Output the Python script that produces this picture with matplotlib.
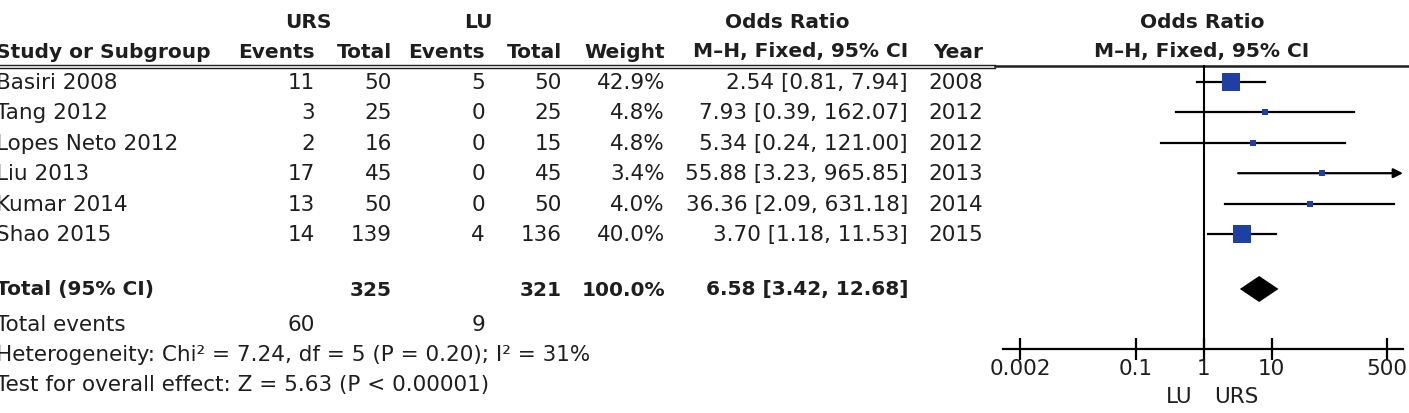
import numpy as np
import matplotlib
matplotlib.use('Agg')
import matplotlib.pyplot as plt

# study data
studies = ['Basiri 2008', 'Tang 2012', 'Lopes Neto 2012', 'Liu 2013', 'Kumar 2014', 'Shao 2015']
urs_events = [11, 3, 2, 17, 13, 14]
urs_total = [50, 25, 16, 45, 50, 139]
lu_events = [5, 0, 0, 0, 0, 4]
lu_total = [50, 25, 15, 45, 50, 136]
weights = [42.9, 4.8, 4.8, 3.4, 4.0, 40.0]
odds = [2.54, 7.93, 5.34, 55.88, 36.36, 3.70]
ci_low = [0.81, 0.39, 0.24, 3.23, 2.09, 1.18]
ci_high = [7.94, 162.07, 121.00, 965.85, 631.18, 11.53]
years = [2008, 2012, 2012, 2013, 2014, 2015]

# pooled result
total_urs, total_lu = 325, 321
total_weight = 100.0
events_urs, events_lu = 60, 9
pooled = [3.42, 6.58, 12.68]
ticks = [0.002, 0.1, 1, 10, 500]
tick_labels = ['0.002', '0.1', '1', '10', '500']

FS = 15.5   # regular text
FSB = 14.5  # bold text
TXT = '#1e1e1e'
BLUE = '#1f3fa3'
W, H = 1409, 414
px = 30.4  # pixels per row
y0 = 83    # pixel y of first study row


def row(ypix):
    return (ypix - y0) / px


fig = plt.figure(figsize=(W / 100, H / 100), dpi=100)
ax = fig.add_axes([0, 0, 1, 1])
ax.set_xlim(0, W)
ax.set_ylim(row(H), row(0))
ax.axis('off')

# forest axes placed under its columns: 68 px per decade, 1 at x=1203.5
left, right, one = 1003, 1403, 1203.5
fa = fig.add_axes([left / W, 0, (right - left) / W, 1])
fa.set_xscale('log')
fa.set_xlim(10 ** ((left - one) / 68), 10 ** ((right - one) / 68))
fa.set_ylim(row(H), row(0))
fa.patch.set_alpha(0)


def t(x, y, s, ha='right', bold=False, **kw):
    ax.text(x, y, s, ha=ha, va='center', fontsize=FSB if bold else FS, color=TXT,
            fontweight='bold' if bold else 'normal', **kw)


# headers
t(308, row(22), 'URS', ha='center', bold=True)
t(478, row(22), 'LU', ha='center', bold=True)
t(787, row(22), 'Odds Ratio', ha='center', bold=True)
t(1202, row(22), 'Odds Ratio', ha='center', bold=True)
hy = row(52)
t(-4, hy, 'Study or Subgroup', ha='left', bold=True)
t(315, hy, 'Events', bold=True)
t(392, hy, 'Total', bold=True)
t(485, hy, 'Events', bold=True)
t(562, hy, 'Total', bold=True)
t(665, hy, 'Weight', bold=True)
t(908, hy, 'M\u2013H, Fixed, 95% CI', bold=True)
t(983, hy, 'Year', bold=True)
t(1202, hy, 'M\u2013H, Fixed, 95% CI', ha='center', bold=True)

# header rules
ax.plot([0, 995], [row(65.5)] * 2, color=TXT, lw=1.0)
ax.plot([0, 995], [row(68.5)] * 2, color=TXT, lw=1.0)
ax.plot([995, W], [row(66.8)] * 2, color=TXT, lw=1.8)

# study rows
for i, name in enumerate(studies):
    t(-4, i, name, ha='left')
    t(315, i, str(urs_events[i]))
    t(392, i, str(urs_total[i]))
    t(485, i, str(lu_events[i]))
    t(562, i, str(lu_total[i]))
    t(665, i, '%.1f%%' % weights[i])
    t(908, i, '%.2f [%.2f, %.2f]' % (odds[i], ci_low[i], ci_high[i]))
    t(983, i, str(years[i]))

# totals
ty = row(290)
t(-4, ty, 'Total (95% CI)', ha='left', bold=True)
t(392, ty, str(total_urs), bold=True)
t(562, ty, str(total_lu), bold=True)
t(665, ty, '%.1f%%' % total_weight, bold=True)
t(908, ty, '%.2f [%.2f, %.2f]' % (pooled[1], pooled[0], pooled[2]), bold=True)
ey = row(325)
t(-4, ey, 'Total events', ha='left')
t(315, ey, str(events_urs))
t(485, ey, str(events_lu))
t(-4, row(355), 'Heterogeneity: Chi\u00b2 = 7.24, df = 5 (P = 0.20); I\u00b2 = 31%', ha='left')
t(-4, row(385), 'Test for overall effect: Z = 5.63 (P < 0.00001)', ha='left')

# forest plot
xmax = fa.get_xlim()[1]
axis_y = row(350)
fa.plot([1, 1], [row(66.8), axis_y], color='black', lw=1.5, zorder=1)
for i in range(len(studies)):
    hi = min(ci_high[i], xmax)
    if ci_high[i] > xmax:
        fa.annotate('', xy=(xmax, i), xytext=(ci_low[i], i),
                    arrowprops=dict(arrowstyle='-|>', lw=1.6, color='black',
                                    mutation_scale=14, shrinkA=0, shrinkB=0),
                    annotation_clip=False)
    else:
        fa.plot([ci_low[i], hi], [i, i], color='black', lw=1.6, zorder=2)
    fa.plot(odds[i], i, marker='s', color=BLUE, ms=1.98 * np.sqrt(weights[i]),
            mew=0, zorder=3)

dh = 13 / px
fa.fill([pooled[0], pooled[1], pooled[2], pooled[1]],
        [ty, ty - dh, ty, ty + dh], color='black', lw=0, zorder=3)

for s in ['left', 'right', 'top']:
    fa.spines[s].set_visible(False)
fa.spines['bottom'].set_position(('data', axis_y))
fa.spines['bottom'].set_linewidth(1.6)
fa.set_yticks([])
fa.set_xticks(ticks)
fa.set_xticklabels(tick_labels)
fa.minorticks_off()
fa.tick_params(axis='x', direction='inout', length=16, width=1.6, pad=-1.5,
               labelsize=FS, labelcolor=TXT)
fa.text(0.68, row(397), 'LU', ha='right', va='center', fontsize=FS, color=TXT)
fa.text(1.42, row(397), 'URS', ha='left', va='center', fontsize=FS, color=TXT)

fig.savefig('out.png', dpi=100)
